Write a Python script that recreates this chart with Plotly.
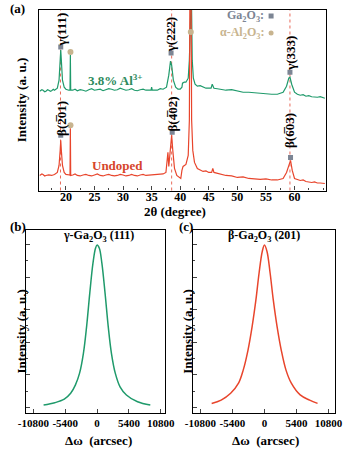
import plotly.graph_objects as go

# ---------------- Panel (a): XRD patterns ----------------
tt_doped = [15.4, 15.8, 16.0, 16.3, 16.5, 16.8, 17.0, 17.3, 17.5, 17.8, 18.0, 18.5, 18.8, 19.0, 19.1,
            19.2, 19.4, 19.7, 20.0, 20.5, 20.72, 20.78, 20.84, 21.2, 21.6, 22.0, 22.5, 23.0, 23.5,
            24.0, 24.5, 25.0, 25.5, 26.0, 26.5, 27.0, 27.5, 28.0, 28.5, 29.0, 29.5, 30.0, 30.5,
            31.0, 31.5, 32.0, 32.5, 33.0, 33.5, 34.0, 34.9, 35.0, 35.1, 36.0, 36.5, 37.0, 37.6,
            38.0, 38.3, 38.5, 38.8, 39.2, 39.6, 40.0, 40.3, 40.4, 40.7, 41.0, 41.4, 41.6, 41.75,
            41.95, 42.1, 42.3, 42.6, 43.0, 43.5, 44.0, 44.5, 45.0, 45.4, 45.6, 45.9, 46.5, 47.0,
            47.5, 48.0, 49.0, 50.0, 51.0, 52.0, 53.0, 54.0, 55.0, 56.0, 57.0, 58.0, 58.6, 59.0,
            59.2, 59.5, 60.0, 60.5, 61.0, 61.5, 62.0, 62.5, 63.0, 63.5, 64.0, 64.5, 65.3]
int_doped = [99, 100.5, 100, 98.5, 99, 100.5, 100, 99, 99.5, 101, 100, 102, 110, 130, 140,
             130, 110, 103, 101, 100, 100, 135, 100, 100, 101, 99.5, 100.5, 100, 99,
             100.5, 101.5, 100, 100.5, 101, 99.5, 100.5, 101.5, 101, 100, 100.5, 102, 101, 100,
             100.5, 101.5, 100, 99.5, 100.5, 101, 100, 100, 103, 100, 100, 101.5, 101, 103,
             115, 129, 125, 110, 103, 101, 101, 103, 107, 108, 108, 112, 130, 200,
             200, 130, 112, 106, 104, 104.5, 103, 102, 102, 102, 106, 102, 101.5, 101,
             100, 100, 100.5, 99, 98, 98, 97.5, 97, 96, 96, 96, 98, 104, 112,
             113, 106, 98, 96, 95, 95.5, 94, 94.5, 93.5, 93, 93, 93.5, 92]

tt_undoped = [15.4, 15.8, 16.0, 16.3, 16.5, 17.0, 17.5, 18.0, 18.5, 18.8, 19.0, 19.1, 19.2, 19.4,
              19.7, 20.0, 20.65, 20.72, 20.78, 20.84, 21.2, 21.6, 22.0, 22.5, 23.0, 23.5, 24.0,
              24.5, 25.0, 25.5, 26.0, 26.5, 27.0, 27.5, 28.0, 28.5, 29.0, 29.5, 30.0, 30.5, 31.0,
              31.5, 32.0, 32.5, 33.0, 33.5, 34.0, 34.5, 35.0, 36.0, 37.0, 37.5, 37.7, 37.85, 38.0,
              38.2, 38.5, 38.7, 39.0, 39.4, 39.8, 40.1, 40.3, 40.5, 41.0, 41.4, 41.6, 41.7, 41.9,
              42.0, 42.2, 42.5, 43.0, 43.5, 44.0, 44.5, 45.0, 45.5, 45.7, 45.9, 46.5, 47.0, 48.0,
              49.0, 50.0, 51.0, 52.0, 53.0, 54.0, 55.0, 56.0, 57.0, 58.0, 58.6, 59.0, 59.3, 59.6,
              60.0, 60.5, 61.0, 61.5, 62.0, 62.5, 63.0, 63.5, 64.0, 64.5, 65.3]
int_undoped = [15, 16.5, 16, 14.5, 15, 15.5, 15, 16, 18, 25, 40, 50, 40, 25,
               18, 16, 15.5, 15, 62, 15, 15.5, 16.5, 15, 14.5, 15.5, 16, 15,
               14.5, 15.5, 16.5, 15, 14.5, 15.5, 16, 15, 14.5, 15, 16, 15.5, 14.5, 15,
               16, 15, 14.5, 15.5, 16, 15, 15.5, 15.5, 16, 16.5, 18, 28, 38, 24,
               35, 55, 40, 22, 15, 13, 12, 20, 24, 26, 35, 70, 200, 200,
               70, 40, 28, 22, 20.5, 19, 19.5, 18, 18, 22, 18, 17, 16, 15,
               14.5, 13, 13.5, 12, 11.5, 11, 11.5, 10.5, 10.5, 12, 18, 26, 30, 20,
               12, 11, 10, 10.5, 9, 8.5, 8, 8.5, 7.5, 7.5, 7]

# phase markers
ga_sq_x = [19.1, 38.4, 59.2, 19.1, 38.6, 59.3]
ga_sq_y = [143, 137, 118, 55, 58, 33]
al_dot_x = [20.8, 41.85, 20.8]
al_dot_y = [138, 158, 65]

# peak labels (text, 2theta, intensity centre)
peak_labels = ["γ(111)", "γ(222)", "γ(333)", "β(2\u030501)", "β(4\u030502)", "β(6\u030503)"]
peak_lab_x = [19.2, 38.25, 59.15, 19.25, 38.6, 59.15]
peak_lab_y = [161, 155, 137, 72, 76, 60]

ref_lines = [19.05, 38.5, 59.2]
xrd_ticks = [20, 25, 30, 35, 40, 45, 50, 55, 60]

# ---------------- Panels (b), (c): rocking curves ----------------
b_omega = [-9070, -7180, -5560, -4480, -3670, -2970, -2320, -1780, -1240, -700, -270, 0,
           380, 810, 1350, 1890, 2430, 3080, 3890, 4970, 6860, 9020]
b_int = [0.07, 0.14, 0.25, 0.43, 0.69, 1.05, 1.66, 2.48, 3.51, 4.43, 4.89, 4.99,
         4.89, 4.43, 3.51, 2.48, 1.66, 1.05, 0.63, 0.38, 0.17, 0.07]

c_omega = [-8900, -7300, -5700, -4370, -3570, -2770, -2080, -1440, -910, -370, 0,
           430, 960, 1490, 2130, 2830, 3620, 4530, 6020, 7620, 8950]
c_int = [0.12, 0.22, 0.43, 0.74, 1.15, 1.76, 2.48, 3.30, 4.12, 4.79, 4.99,
         4.79, 4.12, 3.30, 2.48, 1.76, 1.15, 0.74, 0.38, 0.22, 0.12]

rc_ticks = [-10800, -5400, 0, 5400, 10800]

GREEN = "#1f9a6b"
RED = "#e8452c"
GRAY = "#7c8594"
TAN = "#c8b48f"
FONT = "Liberation Serif"

fig = go.Figure()

fig.add_trace(go.Scatter(x=tt_doped, y=int_doped, mode="lines",
                         line=dict(color=GREEN, width=1.2), xaxis="x", yaxis="y"))
fig.add_trace(go.Scatter(x=tt_undoped, y=int_undoped, mode="lines",
                         line=dict(color=RED, width=1.2), xaxis="x", yaxis="y"))
fig.add_trace(go.Scatter(x=ga_sq_x, y=ga_sq_y, mode="markers",
                         marker=dict(symbol="square", size=5, color=GRAY), xaxis="x", yaxis="y"))
fig.add_trace(go.Scatter(x=al_dot_x, y=al_dot_y, mode="markers",
                         marker=dict(symbol="circle", size=6, color=TAN), xaxis="x", yaxis="y"))

fig.add_trace(go.Scatter(x=b_omega, y=b_int, mode="lines", line_shape="spline",
                         line=dict(color=GREEN, width=1.5), xaxis="x2", yaxis="y2"))
fig.add_trace(go.Scatter(x=c_omega, y=c_int, mode="lines", line_shape="spline",
                         line=dict(color=RED, width=1.5), xaxis="x3", yaxis="y3"))

for xv in ref_lines:
    fig.add_shape(type="line", xref="x", yref="y domain", x0=xv, x1=xv, y0=0, y1=1,
                  line=dict(color="#e86a5a", width=1, dash="dot"), layer="below")

W, H = 354, 449
def px(v): return v / W
def py(v): return 1 - v / H

axis_common = dict(showline=True, linecolor="black", linewidth=1.3, mirror=True,
                   ticks="inside", showgrid=False, zeroline=False,
                   tickfont=dict(family=FONT, size=12, color="black", weight="bold"))

fig.update_layout(
    width=W, height=H, margin=dict(l=0, r=0, t=0, b=0),
    paper_bgcolor="white", plot_bgcolor="white", showlegend=False,
    xaxis=dict(domain=[px(33), px(335)], range=[15.35, 65.5], anchor="y",
               tickvals=xrd_ticks, ticklen=4, ticklabelstandoff=-5,
               minor=dict(dtick=2.5, ticks="inside", ticklen=2),
               **axis_common),
    yaxis=dict(domain=[py(190.5), py(10)], range=[0, 180], anchor="x",
               showticklabels=False, **{k: v for k, v in axis_common.items() if k != "ticks"}, ticks=""),
    xaxis2=dict(domain=[px(19.3), px(165.7)], range=[-12000, 11560], anchor="y2",
                tickvals=rc_ticks, ticktext=[str(t) for t in rc_ticks], ticklen=4,
                **{k: v for k, v in axis_common.items() if k != "tickfont"},
                tickfont=dict(family=FONT, size=11, color="black", weight="bold")),
    yaxis2=dict(domain=[py(413), py(230)], range=[-0.175, 5.45], anchor="x2",
                tickvals=[0, 1, 2, 3, 4, 5], showticklabels=False, ticklen=4,
                minor=dict(dtick=0.5, ticks="inside", ticklen=2), **axis_common),
    xaxis3=dict(domain=[px(195), px(345)], range=[-12030, 11970], anchor="y3",
                tickvals=rc_ticks, ticktext=[str(t) for t in rc_ticks], ticklen=4,
                **{k: v for k, v in axis_common.items() if k != "tickfont"},
                tickfont=dict(family=FONT, size=11, color="black", weight="bold")),
    yaxis3=dict(domain=[py(413), py(230)], range=[-0.175, 5.45], anchor="x3",
                tickvals=[0, 1, 2, 3, 4, 5], showticklabels=False, ticklen=4,
                minor=dict(dtick=0.5, ticks="inside", ticklen=2), **axis_common),
)

ann = []
def paper_text(text, x, y, size=13, color="black", angle=0, xanchor="center"):
    ann.append(dict(text=text, x=x, y=y, xref="paper", yref="paper", showarrow=False,
                    textangle=angle, xanchor=xanchor, yanchor="middle",
                    font=dict(family=FONT, size=size, color=color, weight="bold")))

# peak labels
for t, xv, yv in zip(peak_labels, peak_lab_x, peak_lab_y):
    ann.append(dict(text=t, x=xv, y=yv, xref="x", yref="y", showarrow=False, textangle=-90,
                    xanchor="center", yanchor="middle",
                    font=dict(family=FONT, size=13, color="black", weight="bold")))

# series labels & phase key
ann.append(dict(text="3.8% Al<sup>3+</sup>", x=28.6, y=110, xref="x", yref="y", showarrow=False,
                font=dict(family=FONT, size=13, color="#2e8a5c", weight="bold")))
ann.append(dict(text="Undoped", x=29.0, y=25, xref="x", yref="y", showarrow=False,
                font=dict(family=FONT, size=13, color="#d6452b", weight="bold")))
ann.append(dict(text="Ga<sub>2</sub>O<sub>3</sub>:", x=55.0, y=174, xref="x", yref="y",
                showarrow=False, xanchor="right",
                font=dict(family=FONT, size=12, color=GRAY, weight="bold")))
ann.append(dict(text="α-Al<sub>2</sub>O<sub>3</sub>:", x=55.0, y=157, xref="x", yref="y",
                showarrow=False, xanchor="right",
                font=dict(family=FONT, size=12, color=TAN, weight="bold")))

# axis titles
paper_text("Intensity (a. u.)", px(14), py(100), size=13, angle=-90)
paper_text("2θ (degree)", px(176), py(211), size=13)
paper_text("Intensity (a. u.)", px(13.3), py(331), size=13, angle=-90)
paper_text("Intensity (a. u.)", px(188.3), py(331), size=13, angle=-90)
paper_text("Δω  (arcsec)", px(95), py(440), size=13)
paper_text("Δω  (arcsec)", px(271), py(440), size=13)

# panel titles
paper_text("γ-Ga<sub>2</sub>O<sub>3</sub> (111)", px(95), py(236), size=12)
paper_text("β-Ga<sub>2</sub>O<sub>3</sub> (2\u030501)", px(270), py(236), size=12)

# panel letters
paper_text("(a)", 0, py(8), size=13, xanchor="left")
paper_text("(b)", 0, py(226), size=13, xanchor="left")
paper_text("(c)", px(178), py(226), size=13, xanchor="left")

fig.update_layout(annotations=ann)

# phase key symbols
fig.add_trace(go.Scatter(x=[55.9], y=[174], mode="markers",
                         marker=dict(symbol="square", size=5, color=GRAY), xaxis="x", yaxis="y"))
fig.add_trace(go.Scatter(x=[55.9], y=[157], mode="markers",
                         marker=dict(symbol="circle", size=5, color=TAN), xaxis="x", yaxis="y"))

fig.write_html("out.html")
